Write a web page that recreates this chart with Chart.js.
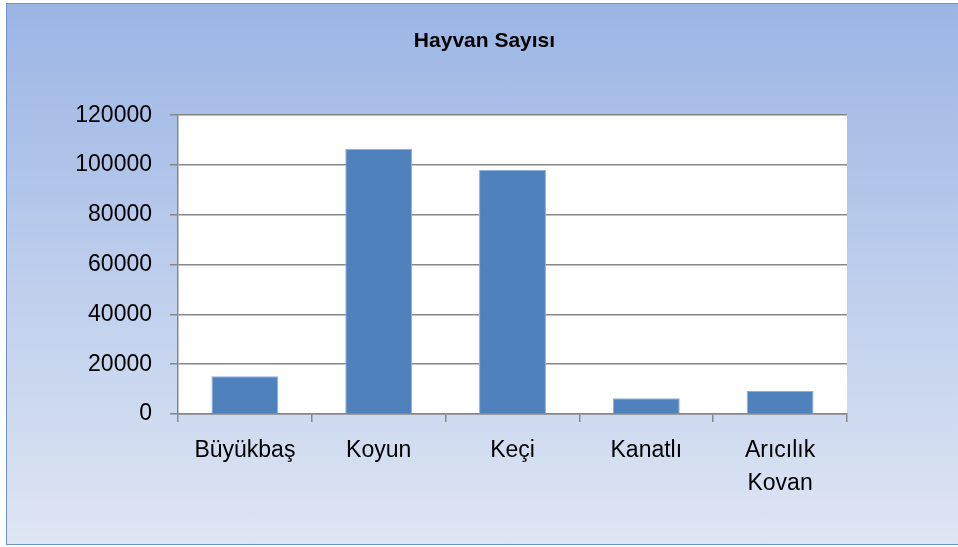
<!DOCTYPE html>
<html>
<head>
<meta charset="utf-8">
<script src="https://cdn.jsdelivr.net/npm/chart.js@4"></script>
<style>
  html, body { margin: 0; background: #ffffff; overflow: hidden; width: 958px; height: 547px; }
  #frame {
    position: absolute; left: 6px; top: 3px; right: -40px; height: 540px;
    border: 1.5px solid #6e93c8;
    background: linear-gradient(to bottom, #9bb5e4 0%, #b3c6ea 35%, #cad7ef 70%, #dfe6f4 100%);
  }
  #wrap { position: absolute; left: 0; top: 0; width: 958px; height: 547px; }
</style>
</head>
<body>
<div id="frame"></div>
<div id="wrap"><canvas id="chart"></canvas></div>
<script>
// dados
const categories = ['Büyükbaş', 'Koyun', 'Keçi', 'Kanatlı', ['Arıcılık', 'Kovan']];
const values = [15200, 106500, 98000, 6300, 9200];
const yTicks = [0, 20000, 40000, 60000, 80000, 100000, 120000];

const gridColor = '#878787';
const font = "'Liberation Sans', Arial, sans-serif";

// fundo branco da área do gráfico
const plotBg = {
  id: 'plotBg',
  beforeDraw(chart) {
    const { ctx, chartArea: a } = chart;
    ctx.save();
    ctx.fillStyle = '#ffffff';
    ctx.fillRect(a.left, a.top, a.right - a.left, a.bottom - a.top);
    ctx.restore();
  }
};

new Chart(document.getElementById('chart'), {
  type: 'bar',
  data: {
    labels: categories,
    datasets: [{
      label: 'Hayvan Sayısı',
      data: values,
      backgroundColor: '#4f81bd',
      borderColor: '#8fb0da',
      borderWidth: 1,
      barPercentage: 0.5,
      categoryPercentage: 1.0
    }]
  },
  options: {
    responsive: true,
    maintainAspectRatio: false,
    animation: false,
    // padding esquerdo mantém o título centrado como no original
    layout: { padding: { left: 122, right: 111, top: 0, bottom: 0 } },
    plugins: {
      legend: { display: false },
      tooltip: { enabled: false },
      title: {
        display: true,
        text: 'Hayvan Sayısı',
        color: '#000000',
        font: { family: font, size: 21, weight: 'bold', lineHeight: 1.2 },
        padding: { top: 29, bottom: 61 }
      }
    },
    scales: {
      x: {
        afterFit(scale) { scale.height = 133; },
        grid: { display: true, drawOnChartArea: false, offset: true, color: gridColor, tickLength: 8, lineWidth: 1.5 },
        border: { color: gridColor, width: 1.5 },
        ticks: { color: '#000000', font: { family: font, size: 23, lineHeight: 1.43 }, padding: 12, maxRotation: 0 }
      },
      y: {
        min: 0,
        max: 120000,
        afterFit(scale) {
          scale.width = 56;
          // não cortar os rótulos que passam da caixa do eixo
          scale._computeLabelArea = () => undefined;
        },
        afterBuildTicks(scale) { scale.ticks = yTicks.map(v => ({ value: v })); },
        grid: { color: gridColor, tickLength: 8, lineWidth: 1.5 },
        border: { color: gridColor, width: 1.5 },
        ticks: {
          color: '#000000',
          font: { family: font, size: 23 },
          padding: 18,
          callback: v => String(v)
        }
      }
    }
  },
  plugins: [plotBg]
});
</script>
</body>
</html>
